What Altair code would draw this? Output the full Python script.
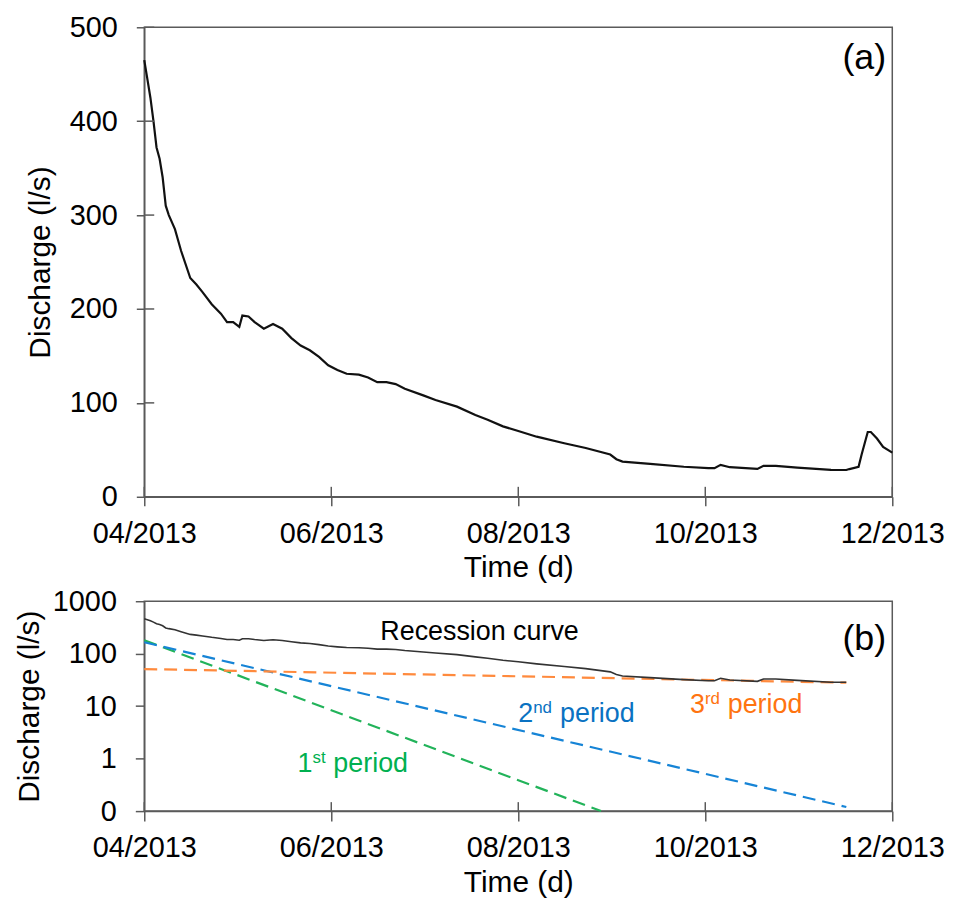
import altair as alt
import pandas as pd

# ---------------- data ----------------
dates = [
    "2013-04-01", "2013-04-02", "2013-04-03", "2013-04-04", "2013-04-05", "2013-04-06",
    "2013-04-07", "2013-04-08", "2013-04-09", "2013-04-11", "2013-04-13", "2013-04-16",
    "2013-04-18", "2013-04-20", "2013-04-23", "2013-04-26", "2013-04-28", "2013-04-30",
    "2013-05-02", "2013-05-03", "2013-05-05", "2013-05-07", "2013-05-10", "2013-05-13",
    "2013-05-16", "2013-05-19", "2013-05-22", "2013-05-25", "2013-05-28", "2013-05-31",
    "2013-06-03", "2013-06-06", "2013-06-10", "2013-06-13", "2013-06-16", "2013-06-19",
    "2013-06-22", "2013-06-25", "2013-07-01", "2013-07-05", "2013-07-12", "2013-07-18",
    "2013-07-22", "2013-07-27", "2013-08-01", "2013-08-07", "2013-08-16", "2013-08-23",
    "2013-08-31", "2013-09-02", "2013-09-04", "2013-09-13", "2013-09-24", "2013-10-02",
    "2013-10-04", "2013-10-06", "2013-10-09", "2013-10-18", "2013-10-20", "2013-10-24",
    "2013-10-31", "2013-11-11", "2013-11-16", "2013-11-17", "2013-11-20", "2013-11-21",
    "2013-11-23", "2013-11-24", "2013-11-26", "2013-11-28", "2013-12-01",
]
discharge = [
    465, 445, 425, 400, 372, 360,
    340, 310, 300, 285, 262, 233,
    226, 218, 205, 195, 186, 186,
    181, 193, 192, 186, 179, 184,
    179, 169, 161, 156, 149, 140,
    135, 131, 130, 127, 122, 122,
    120, 115, 108, 103, 96, 87,
    82, 75, 70, 64, 57, 52,
    45, 40, 37.5, 35, 32, 30.5,
    30.5, 34, 31.5, 29.7, 33, 33,
    31, 28.6, 28.5, 29.5, 32, 45,
    69, 69, 62, 53, 47,
]
recession_end = "2013-11-16"

tick_dates = ["2013-04-01", "2013-06-01", "2013-08-01", "2013-10-01", "2013-12-01"]
top_y_ticks = [0, 100, 200, 300, 400, 500]
log_y_ticks = [0.1, 1, 10, 100, 1000]

period_names = ["1st", "2nd", "3rd"]
period_start_dates = ["2013-04-01", "2013-04-01", "2013-04-01"]
period_start_q = [180, 165, 51]
period_end_dates = ["2013-08-28", "2013-11-16", "2013-11-16"]
period_end_q = [0.1, 0.12, 28]
period_line_colors = ["#22B35A", "#1684D6", "#FF8A3D"]
period_text_colors = ["#00B050", "#0A72C2", "#FF7410"]

ann_num = ["1", "2", "3"]
ann_sup = ["st", "nd", "rd"]
ann_word = ["period", "period", "period"]
ann_dates = ["2013-05-21", "2013-08-01", "2013-09-26"]
ann_q = [0.55, 5.1, 7.5]
ann_sup_dx = [15, 15, 15]
ann_word_dx = [36, 42, 38]

curve_label = "Recession curve"
curve_label_date = "2013-06-17"
curve_label_q = 182

panel_labels = ["(a)", "(b)"]
panel_label_dates = ["2013-11-29", "2013-11-29"]
panel_label_q = [467, 190]

# ---------------- helpers ----------------
FONT = "Liberation Sans"
AXIS_GREY = "#5a5a5a"


def dt(s):
    y, m, d = (int(v) for v in s.split("-"))
    return alt.DateTime(year=y, month=m, date=d, utc=True)


xscale = alt.Scale(type="utc", domain=[dt(tick_dates[0]), dt(tick_dates[-1])])


def x_axis(tick, lab_pad, title_pad):
    return alt.Axis(values=[dt(s) for s in tick_dates], format="%m/%Y", title="Time (d)",
                    tickSize=tick, labelPadding=lab_pad, titlePadding=title_pad)


df = pd.DataFrame({"date": dates, "q": discharge})
ticks_x_df = pd.DataFrame({"date": tick_dates})

# ---------------- panel (a) ----------------
top_y_scale = alt.Scale(domain=[0, 500], nice=False)

top_line = alt.Chart(df).mark_line(color="#111111", strokeWidth=2.2).encode(
    x=alt.X("date:T", scale=xscale, axis=x_axis(9, 14, 4)),
    y=alt.Y("q:Q", scale=top_y_scale,
            axis=alt.Axis(values=top_y_ticks, title="Discharge (l/s)", tickSize=8,
                          labelPadding=19, titlePadding=14)),
)
top_inner_x = alt.Chart(ticks_x_df).mark_rule(color=AXIS_GREY, strokeWidth=1.5).encode(
    x=alt.X("date:T", scale=xscale), y=alt.value(472), y2=alt.value(462)
)
top_inner_y = alt.Chart(pd.DataFrame({"q": top_y_ticks})).mark_rule(
    color=AXIS_GREY, strokeWidth=1.5).encode(
    y=alt.Y("q:Q", scale=top_y_scale), x=alt.value(0), x2=alt.value(10)
)
top_label = alt.Chart(pd.DataFrame({"date": panel_label_dates[:1], "q": panel_label_q[:1],
                                    "t": panel_labels[:1]})).mark_text(
    align="right", baseline="middle", fontSize=36, font=FONT, color="black").encode(
    x=alt.X("date:T", scale=xscale), y=alt.Y("q:Q", scale=top_y_scale), text="t:N"
)
top = alt.layer(top_line, top_inner_x, top_inner_y, top_label).properties(width=752, height=472)

# ---------------- panel (b) ----------------
log_scale = alt.Scale(type="log", domain=[0.1, 1000], nice=False)

rec_df = df[pd.to_datetime(df["date"]) <= pd.Timestamp(recession_end)]
bot_line = alt.Chart(rec_df).mark_line(color="#333333", strokeWidth=1.6).encode(
    x=alt.X("date:T", scale=xscale, axis=x_axis(10, 13, 5)),
    y=alt.Y("q:Q", scale=log_scale,
            axis=alt.Axis(values=log_y_ticks, format=".0f", title="Discharge (l/s)",
                          tickSize=9, labelPadding=19, titlePadding=8)),
)

rows = []
for i, name in enumerate(period_names):
    rows.append({"period": name, "date": period_start_dates[i], "q": period_start_q[i], "o": 0})
    rows.append({"period": name, "date": period_end_dates[i], "q": period_end_q[i], "o": 1})
per_df = pd.DataFrame(rows)
per_lines = alt.Chart(per_df).mark_line(strokeWidth=2.2, strokeDash=[13, 7]).encode(
    x=alt.X("date:T", scale=xscale),
    y=alt.Y("q:Q", scale=log_scale),
    color=alt.Color("period:N", scale=alt.Scale(domain=period_names, range=period_line_colors),
                    legend=None),
    order="o:Q",
    detail="period:N",
)

bot_inner_x = alt.Chart(ticks_x_df).mark_rule(color=AXIS_GREY, strokeWidth=1.5).encode(
    x=alt.X("date:T", scale=xscale), y=alt.value(211), y2=alt.value(202)
)

curve_text = alt.Chart(pd.DataFrame({"date": [curve_label_date], "q": [curve_label_q],
                                     "t": [curve_label]})).mark_text(
    align="left", baseline="alphabetic", fontSize=27, font=FONT, color="black").encode(
    x=alt.X("date:T", scale=xscale), y=alt.Y("q:Q", scale=log_scale), text="t:N"
)

ann_layers = []
for i in range(3):
    d = pd.DataFrame({"date": [ann_dates[i]], "q": [ann_q[i]], "n": [ann_num[i]],
                      "s": [ann_sup[i]], "w": [ann_word[i]]})
    base = alt.Chart(d).encode(x=alt.X("date:T", scale=xscale), y=alt.Y("q:Q", scale=log_scale))
    col = period_text_colors[i]
    ann_layers.append(base.mark_text(align="left", baseline="alphabetic", fontSize=27,
                                     font=FONT, color=col).encode(text="n:N"))
    ann_layers.append(base.mark_text(align="left", baseline="alphabetic", fontSize=17,
                                     font=FONT, color=col, dx=ann_sup_dx[i], dy=-9).encode(text="s:N"))
    ann_layers.append(base.mark_text(align="left", baseline="alphabetic", fontSize=27,
                                     font=FONT, color=col, dx=ann_word_dx[i]).encode(text="w:N"))

bot_label = alt.Chart(pd.DataFrame({"date": panel_label_dates[1:], "q": panel_label_q[1:],
                                    "t": panel_labels[1:]})).mark_text(
    align="right", baseline="middle", fontSize=36, font=FONT, color="black").encode(
    x=alt.X("date:T", scale=xscale), y=alt.Y("q:Q", scale=log_scale), text="t:N"
)

bottom = alt.layer(per_lines, bot_line, bot_inner_x, curve_text, bot_label,
                   *ann_layers).properties(width=752, height=211)

chart = alt.vconcat(top, bottom, spacing=3).properties(
    padding={"left": 5, "top": 2, "right": 0, "bottom": 0}
).configure_axis(
    grid=False,
    labelFont=FONT, labelFontSize=29, labelColor="black",
    titleFont=FONT, titleFontSize=30, titleFontWeight="normal", titleColor="black",
    domainColor=AXIS_GREY, domainWidth=1.5, tickColor=AXIS_GREY, tickWidth=1.5,
    labelFlush=False, labelOverlap=False,
).configure_view(stroke=AXIS_GREY, strokeWidth=1.5).resolve_scale(
    x="independent", y="independent")

chart.save("out.html", embed_options={"renderer": "svg", "actions": False})
